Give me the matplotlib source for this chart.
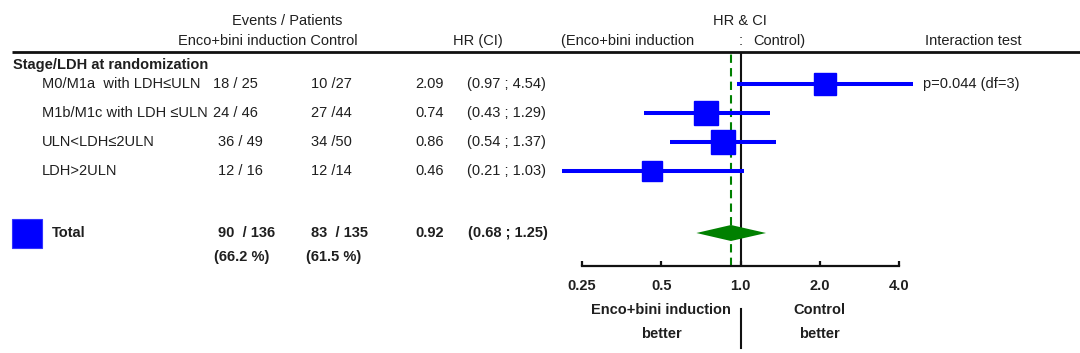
import matplotlib
matplotlib.use("Agg")
import matplotlib.pyplot as plt
from matplotlib.patches import Rectangle

plt.rcParams['font.family'] = ['Liberation Sans', 'DejaVu Sans']

# ---------------- data ----------------
subgroup_title = "Stage/LDH at randomization"
subgroups = ["M0/M1a  with LDH\u2264ULN", "M1b/M1c with LDH \u2264ULN",
             "ULN<LDH\u22642ULN", "LDH>2ULN"]
events_trt = [18, 24, 36, 12]
n_trt = [25, 46, 49, 16]
events_ctl = [10, 27, 34, 12]
n_ctl = [27, 44, 50, 14]
hr = [2.09, 0.74, 0.86, 0.46]
ci_low = [0.97, 0.43, 0.54, 0.21]
ci_high = [4.54, 1.29, 1.37, 1.03]

total_events_trt, total_n_trt = 90, 136
total_events_ctl, total_n_ctl = 83, 135
total_pct_trt, total_pct_ctl = 66.2, 61.5
total_hr, total_lo, total_hi = 0.92, 0.68, 1.25
interaction_text = "p=0.044 (df=3)"

tick_values = [0.25, 0.5, 1.0, 2.0, 4.0]
tick_labels = ["0.25", "0.5", "1.0", "2.0", "4.0"]

# ---------------- layout (pixels) ----------------
W, H = 1080, 353
row_y = [84, 113, 142, 171]
total_y = 233
pct_y = 257
header_line_y = 52
axis_y = 266

TXT = '#1f1f1f'
FS = 10.5
BLUE = '#0000FF'
GREEN = '#008000'

fig = plt.figure(figsize=(W / 100, H / 100), dpi=100)
fig.patch.set_facecolor('white')

# overlay axes in pixel coordinates for the table text
tax = fig.add_axes([0, 0, 1, 1])
tax.set_xlim(0, W)
tax.set_ylim(H, 0)
tax.axis('off')

def t(x, y, s, ha='left', bold=False, **kw):
    tax.text(x, y, s, ha=ha, va='center', fontsize=FS, color=TXT,
             fontweight='bold' if bold else 'normal', **kw)

# headers
t(287, 21, "Events / Patients", ha='center')
t(178, 41, "Enco+bini induction Control")
t(478, 41, "HR (CI)", ha='center')
t(740, 21, "HR & CI", ha='center')
t(561, 41, "(Enco+bini induction")
t(741, 41, ":", ha='center')
t(753, 41, "Control)")
t(925, 41, "Interaction test")
tax.plot([12, 1080], [header_line_y, header_line_y], color='#111111', lw=2.0,
         solid_capstyle='butt')

# subgroup rows
t(13, 65, subgroup_title, bold=True)
for i, y in enumerate(row_y):
    t(42, y, subgroups[i])
    t(213 if i < 2 else 218, y, f"{events_trt[i]} / {n_trt[i]}")
    t(311, y, f"{events_ctl[i]} /{n_ctl[i]}")
    t(444, y, f"{hr[i]:.2f}", ha='right')
    t(467, y, f"({ci_low[i]:.2f} ; {ci_high[i]:.2f})")
t(923, row_y[0], interaction_text)

# total rows
tax.add_patch(Rectangle((12, 219), 30, 29, facecolor=BLUE, edgecolor='#3333ff', lw=0.8))
t(52, total_y, "Total", bold=True)
t(218, total_y, f"{total_events_trt}  / {total_n_trt}", bold=True)
t(311, total_y, f"{total_events_ctl}  / {total_n_ctl}", bold=True)
t(444, total_y, f"{total_hr:.2f}", ha='right', bold=True)
t(468, total_y, f"({total_lo:.2f} ; {total_hi:.2f})", bold=True)
t(214, pct_y, f"({total_pct_trt:.1f} %)", bold=True)
t(306, pct_y, f"({total_pct_ctl:.1f} %)", bold=True)

# ---------------- forest axes ----------------
x0, x1 = 582, 899
ax = fig.add_axes([x0 / W, (H - axis_y) / H, (x1 - x0) / W, (axis_y - header_line_y) / H])
ax.set_facecolor('none')
ax.set_xscale('log', base=2)
ax.set_xlim(tick_values[0], tick_values[-1])
ax.set_ylim(axis_y, header_line_y)
for s in ['top', 'left', 'right']:
    ax.spines[s].set_visible(False)
ax.spines['bottom'].set_linewidth(1.6)
ax.spines['bottom'].set_color('#111111')
ax.set_yticks([])
ax.set_xticks(tick_values)
ax.set_xticklabels(tick_labels, fontweight='bold', fontsize=FS, color=TXT)
ax.xaxis.set_minor_locator(matplotlib.ticker.NullLocator())
ax.tick_params(axis='x', direction='in', length=3.5, width=1.6, pad=9, colors='#111111')
for lab in ax.get_xticklabels():
    lab.set_color(TXT)

ax.axvline(1.0, color='#111111', lw=1.5, zorder=2)
ax.axvline(total_hr, color=GREEN, lw=1.5, ls=(0, (4, 2.5)), zorder=2)

for i, y in enumerate(row_y):
    ax.plot([ci_low[i], ci_high[i]], [y, y], color=BLUE, lw=2.9, clip_on=False,
            solid_capstyle='butt', zorder=3)
    side_px = 18.5 + 0.09 * (events_trt[i] + events_ctl[i])
    ax.plot([hr[i]], [y], marker='s', ms=side_px * 0.72, color=BLUE,
            mec=BLUE, clip_on=False, zorder=4, ls='none')

ax.fill([total_lo, total_hr, total_hi, total_hr],
        [total_y, total_y - 8, total_y, total_y + 8], color=GREEN, zorder=3, lw=0)

# bottom labels (x in data, y in pixels)
ax.text(0.5, 310, "Enco+bini induction", ha='center', va='center', fontsize=FS,
        fontweight='bold', color=TXT, clip_on=False)
ax.text(0.5, 334, "better", ha='center', va='center', fontsize=FS,
        fontweight='bold', color=TXT, clip_on=False)
ax.text(2.0, 310, "Control", ha='center', va='center', fontsize=FS,
        fontweight='bold', color=TXT, clip_on=False)
ax.text(2.0, 334, "better", ha='center', va='center', fontsize=FS,
        fontweight='bold', color=TXT, clip_on=False)
ax.plot([1.0, 1.0], [309, 348], color='#111111', lw=1.5, clip_on=False)

fig.savefig("out.png", dpi=100, facecolor='white')
